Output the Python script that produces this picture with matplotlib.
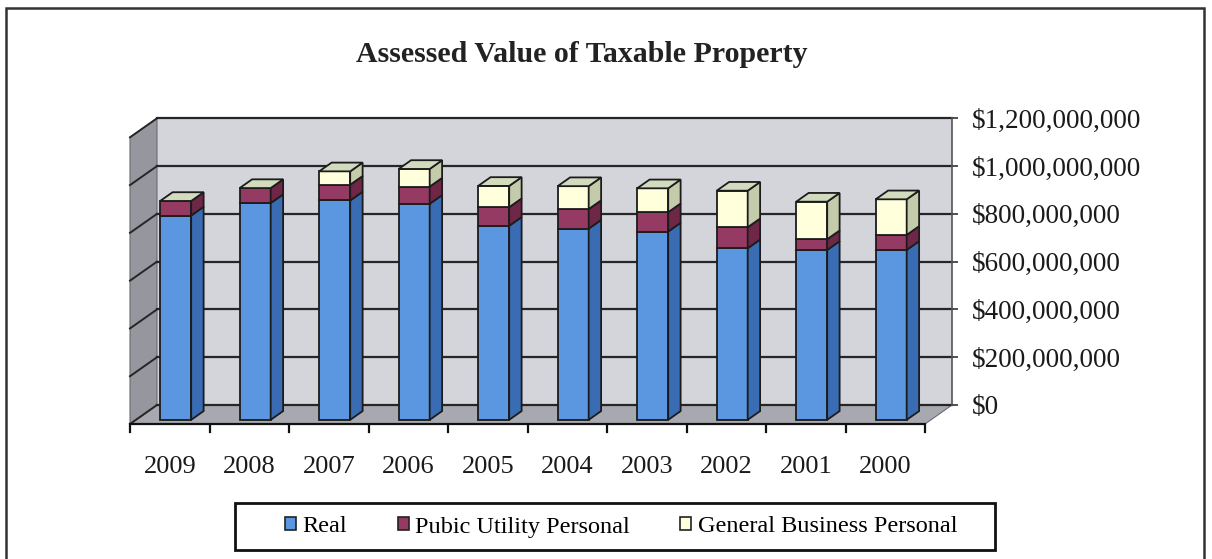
import matplotlib
matplotlib.use("Agg")
import matplotlib.pyplot as plt
from matplotlib.patches import Polygon, Patch, Rectangle
from matplotlib.ticker import FuncFormatter
import numpy as np

plt.rcParams['font.family'] = ['Liberation Serif', 'DejaVu Serif']

# ---- data (US dollars) ----
years = ['2009', '2008', '2007', '2006', '2005', '2004', '2003', '2002', '2001', '2000']
real = np.array([855, 907, 918, 904, 812, 800, 788, 718, 711, 711]) * 1e6
public_utility = np.array([61, 63, 66, 72, 78, 82, 81, 88, 45, 63]) * 1e6
general_business = np.array([0, 0, 56, 74, 89, 96, 100, 153, 157, 149]) * 1e6
series_names = ['Real', 'Pubic Utility Personal', 'General Business Personal']
value_ticks = np.arange(0, 1.2e9 + 1, 2e8)

# colours: front face, side face
front_cols = ['#5A97E0', '#953A62', '#FFFFDC']
side_cols = ['#3A6CB4', '#6E2746', '#C3CBAA']
top_col = '#D3DBBF'
edge = '#1c1c1c'

W, H = 1212, 559
fig = plt.figure(figsize=(W / 100, H / 100), dpi=100)

# back wall of the 3-D box (pixel extents)
bx0, bx1, by_top, by_bot = 157, 952, 118.3, 405
ax = fig.add_axes([bx0 / W, (H - by_bot) / H, (bx1 - bx0) / W, (by_bot - by_top) / H])
ncat = len(years)
vmax = value_ticks[-1]
ax.set_xlim(0, ncat)
ax.set_ylim(0, vmax)
ax.set_facecolor('#D4D4DB')

px_u = ncat / (bx1 - bx0)          # category units per pixel
px_v = vmax / (by_bot - by_top)    # dollars per pixel
DU, DV = -27 * px_u, -19 * px_v    # shift from back plane to front plane


def P(u, v, t):
    """Oblique projection: u along categories, v value, t depth (0 front, 1 back)."""
    return (u + DU * (1 - t), v + DV * (1 - t))


def poly(pts, **kw):
    p = Polygon(pts, closed=True, clip_on=False, **kw)
    ax.add_patch(p)
    return p


# side wall and floor
poly([P(0, 0, 0), P(0, 0, 1), P(0, vmax, 1), P(0, vmax, 0)],
     facecolor='#96969E', edgecolor='#6a6a70', lw=0.8, zorder=0.5)
poly([P(0, 0, 0), P(ncat, 0, 0), P(ncat, 0, 1), P(0, 0, 1)],
     facecolor='#A8A8B0', edgecolor='#6a6a70', lw=0.8, zorder=0.5)

# gridlines on back wall and side wall
for v in value_ticks:
    ax.plot([0, ncat], [v, v], color='#262626', lw=1.6, zorder=1, clip_on=False)
    (x0, y0), (x1, y1) = P(0, v, 1), P(0, v, 0)
    ax.plot([x0, x1], [y0, y1], color='#262626', lw=1.4, zorder=1, clip_on=False)

# category axis along the front edge of the floor
ax.plot(*zip(P(0, 0, 0), P(ncat, 0, 0)), color='#111', lw=1.6, zorder=2, clip_on=False)
tick_len = 8 * px_v
for k in range(ncat + 1):
    x, y = P(k, 0, 0)
    ax.plot([x, x], [y - 2 * px_v, y - tick_len], color='#111', lw=1.6, zorder=2, clip_on=False)
for i, yr in enumerate(years):
    x, y = P(i + 0.5, 0, 0)
    ax.text(x, y - 43 * px_v, yr, ha='center', va='center', fontsize=19, color='#1a1a1a')

# stacked 3-D columns
tf, tb = 0.22, 0.68
w = 0.39
centers = np.arange(ncat) + 0.5
stack = [real, public_utility, general_business]
bottom = np.zeros(ncat)
for s, vals in enumerate(stack):
    fx, fb = P(centers, bottom, tf)
    ax.bar(fx, vals, width=w, bottom=fb, color=front_cols[s], edgecolor=edge,
           lw=1.3, zorder=3, clip_on=False)
    for i in range(ncat):
        if vals[i] <= 0:
            continue
        ur = centers[i] + w / 2
        b, t = bottom[i], bottom[i] + vals[i]
        poly([P(ur, b, tf), P(ur, b, tb), P(ur, t, tb), P(ur, t, tf)],
             facecolor=side_cols[s], edgecolor=edge, lw=1.3, zorder=3)
    bottom = bottom + vals

for i in range(ncat):
    ul, ur = centers[i] - w / 2, centers[i] + w / 2
    t = bottom[i]
    poly([P(ul, t, tf), P(ur, t, tf), P(ur, t, tb), P(ul, t, tb)],
         facecolor=top_col, edgecolor=edge, lw=1.3, zorder=3)

# value axis on the right of the back wall
for side in ['left', 'top', 'bottom']:
    ax.spines[side].set_visible(False)
ax.spines['right'].set_color('#555')
ax.spines['right'].set_linewidth(1.2)
ax.set_xticks([])
ax.yaxis.tick_right()
ax.set_yticks(value_ticks)
ax.yaxis.set_major_formatter(FuncFormatter(lambda v, _: '${:,.0f}'.format(v)))
ax.tick_params(axis='y', length=4.5, width=1.2, color='#333', pad=10,
               labelsize=19.5, labelcolor='#1a1a1a')

fig.text(582 / W, 1 - 54 / H, 'Assessed Value of Taxable Property',
         ha='center', va='center', fontsize=21.5, fontweight='bold', color='#222')

# legend: entries without frame, box drawn separately
handles = [Patch(facecolor=front_cols[k], edgecolor='#222', lw=1.2) for k in range(3)]
leg = fig.legend(handles, series_names, loc='center', ncol=3,
                 bbox_to_anchor=(621 / W, 1 - 527 / H), fontsize=17.5,
                 frameon=False, handlelength=0.45, handleheight=0.45,
                 handletextpad=0.25, columnspacing=2.1, borderpad=0.3,
                 borderaxespad=0)
fig.add_artist(Rectangle((235 / W, 1 - 550 / H), (995 - 235) / W, 47 / H,
                         transform=fig.transFigure, fill=False,
                         edgecolor='#111', lw=2.0))

# outer chart border
fig.add_artist(Rectangle((6 / W, -0.2), (1204 - 6) / W, 1.2 - 8 / H,
                         transform=fig.transFigure, fill=False,
                         edgecolor='#333', lw=1.8))

fig.savefig('out.png', dpi=100)
